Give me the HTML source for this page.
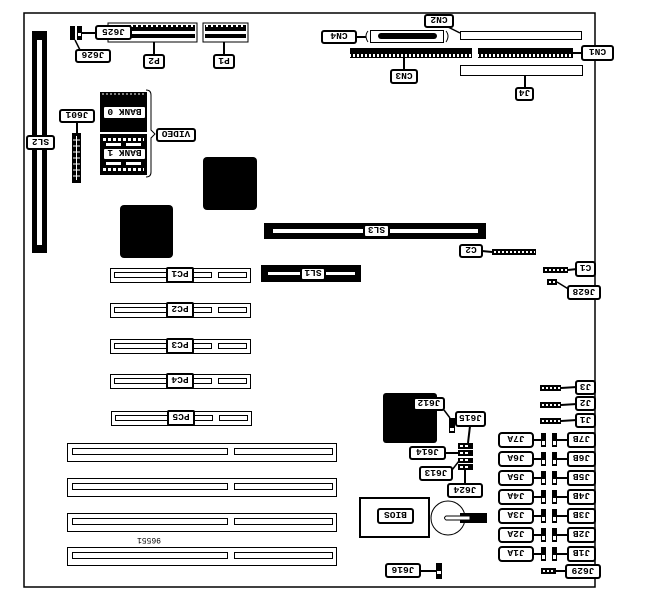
<!DOCTYPE html>
<html><head><meta charset="utf-8"><style>
html,body{margin:0;padding:0;background:#fff;}
svg{display:block;}
text{font-family:"Liberation Mono","DejaVu Sans Mono",monospace;font-weight:bold;font-size:9.5px;fill:#000;}
</style></head><body>
<svg width="659" height="610" viewBox="0 0 659 610" xmlns="http://www.w3.org/2000/svg">
<defs>
<pattern id="pins" width="5" height="10" patternUnits="userSpaceOnUse"><rect width="5" height="10" fill="#000"/><rect x="1" y="2" width="2" height="5" fill="#fff"/></pattern>
<pattern id="hdr" width="4" height="10" patternUnits="userSpaceOnUse"><rect width="4" height="10" fill="#000"/><rect x="1" y="2" width="2" height="5" fill="#fff"/></pattern>
</defs>
<rect x="24" y="13" width="571" height="574" fill="none" stroke="#000" stroke-width="1.5"/>
<rect x="32" y="31" width="15" height="222" fill="#000"/>
<rect x="37" y="40" width="5" height="205" fill="#fff"/>
<rect x="108" y="23" width="89" height="19" fill="#fff" stroke="#000"/>
<rect x="110" y="25" width="85" height="6" fill="url(#pins)"/>
<rect x="110" y="34" width="85" height="4" fill="#000"/>
<rect x="203" y="23" width="45" height="19" fill="#fff" stroke="#000"/>
<rect x="205" y="25" width="41" height="6" fill="url(#pins)"/>
<rect x="205" y="34" width="41" height="4" fill="#000"/>
<rect x="70" y="26" width="5" height="14" fill="#000"/><rect x="77" y="26" width="5" height="14" fill="#000"/>
<rect x="78" y="33" width="3" height="3" fill="#fff"/>
<line x1="82" y1="33" x2="96" y2="33" stroke="#000" stroke-width="2"/>
<line x1="75" y1="40" x2="80" y2="50" stroke="#000" stroke-width="1.5"/>
<line x1="154" y1="42" x2="154" y2="55" stroke="#000" stroke-width="2"/>
<line x1="224" y1="42" x2="224" y2="55" stroke="#000" stroke-width="2"/>
<rect x="100" y="92" width="47" height="40" fill="#000"/>
<line x1="102" y1="94" x2="145" y2="94" stroke="#fff" stroke-dasharray="2,2"/>
<rect x="100" y="134" width="47" height="41" fill="#000"/>
<line x1="103" y1="139.5" x2="144" y2="139.5" stroke="#fff" stroke-width="3" stroke-dasharray="3,2"/>
<line x1="103" y1="169.5" x2="144" y2="169.5" stroke="#fff" stroke-width="3" stroke-dasharray="3,2"/>
<rect x="106" y="143" width="15" height="3" fill="#fff"/><rect x="126" y="143" width="15" height="3" fill="#fff"/>
<rect x="106" y="162" width="15" height="3" fill="#fff"/><rect x="126" y="162" width="15" height="3" fill="#fff"/>
<path d="M146 90 Q151 90 151 95 L151 130 L155 134 L151 138 L151 172 Q151 177 146 177" fill="none" stroke="#000"/>
<rect x="72" y="133" width="9" height="50" fill="#000"/>
<g stroke="#fff" stroke-width="1"><line x1="76.5" y1="136" x2="76.5" y2="180"/>
<line x1="73" y1="140" x2="80" y2="140"/><line x1="73" y1="146" x2="80" y2="146"/><line x1="73" y1="152" x2="80" y2="152"/><line x1="73" y1="158" x2="80" y2="158"/><line x1="73" y1="164" x2="80" y2="164"/><line x1="73" y1="170" x2="80" y2="170"/><line x1="73" y1="176" x2="80" y2="176"/></g>
<line x1="77" y1="122" x2="77" y2="133" stroke="#000" stroke-width="2"/>
<rect x="203" y="157" width="54" height="53" rx="4" fill="#000"/>
<rect x="120" y="205" width="53" height="53" rx="4" fill="#000"/>
<rect x="383" y="393" width="54" height="50" rx="3" fill="#000"/>
<rect x="264" y="223" width="222" height="16" fill="#000"/>
<rect x="273" y="229" width="205" height="4" fill="#fff"/>
<rect x="261" y="265" width="100" height="17" fill="#000"/>
<rect x="268" y="272" width="87" height="3" fill="#fff"/>
<g fill="#fff" stroke="#000">
<rect x="110.5" y="268.5" width="140" height="14"/><rect x="114.5" y="272.5" width="80" height="5"/><rect x="192.5" y="272.5" width="19" height="5"/><rect x="218.5" y="272.5" width="28" height="5"/>
<rect x="110.5" y="303.5" width="140" height="14"/><rect x="114.5" y="307.5" width="80" height="5"/><rect x="192.5" y="307.5" width="19" height="5"/><rect x="218.5" y="307.5" width="28" height="5"/>
<rect x="110.5" y="339.5" width="140" height="14"/><rect x="114.5" y="343.5" width="80" height="5"/><rect x="192.5" y="343.5" width="19" height="5"/><rect x="218.5" y="343.5" width="28" height="5"/>
<rect x="110.5" y="374.5" width="140" height="14"/><rect x="114.5" y="378.5" width="80" height="5"/><rect x="192.5" y="378.5" width="19" height="5"/><rect x="218.5" y="378.5" width="28" height="5"/>
<rect x="111.5" y="411.5" width="140" height="14"/><rect x="115.5" y="415.5" width="80" height="5"/><rect x="193.5" y="415.5" width="19" height="5"/><rect x="219.5" y="415.5" width="28" height="5"/>
<rect x="67.5" y="443.5" width="269" height="18"/><rect x="72.5" y="448.5" width="155" height="6"/><rect x="234.5" y="448.5" width="98" height="6"/>
<rect x="67.5" y="478.5" width="269" height="18"/><rect x="72.5" y="483.5" width="155" height="6"/><rect x="234.5" y="483.5" width="98" height="6"/>
<rect x="67.5" y="513.5" width="269" height="18"/><rect x="72.5" y="518.5" width="155" height="6"/><rect x="234.5" y="518.5" width="98" height="6"/>
<rect x="67.5" y="547.5" width="269" height="18"/><rect x="72.5" y="552.5" width="155" height="6"/><rect x="234.5" y="552.5" width="98" height="6"/>
<rect x="460.5" y="31.5" width="121" height="8"/>
<rect x="460.5" y="65.5" width="122" height="10"/>
<rect x="370.5" y="30.5" width="73" height="12"/>
</g>
<rect x="378" y="33" width="59" height="6" rx="3" fill="#000"/>
<path d="M368 31 Q364 36 368 42 M446 31 Q450 36 446 42" fill="none" stroke="#000"/>
<line x1="356" y1="37" x2="366" y2="37" stroke="#000" stroke-width="2"/>
<line x1="448" y1="27" x2="460" y2="33" stroke="#000" stroke-width="1.5"/>
<rect x="350" y="48" width="122" height="10" fill="url(#hdr)"/>
<rect x="350" y="52" width="122" height="2" fill="#000"/>
<rect x="478" y="48" width="95" height="10" fill="url(#hdr)"/>
<rect x="478" y="52" width="95" height="2" fill="#000"/>
<line x1="573" y1="53" x2="583" y2="53" stroke="#000" stroke-width="2"/>
<line x1="404" y1="58" x2="404" y2="70" stroke="#000" stroke-width="2"/>
<line x1="525" y1="75" x2="525" y2="88" stroke="#000" stroke-width="2"/>
<g fill="#000">
<rect x="492" y="249" width="44" height="6"/>
<rect x="543" y="267" width="25" height="6"/>
<rect x="547" y="279" width="10" height="6"/>
<rect x="540" y="385" width="21" height="6"/>
<rect x="540" y="402" width="21" height="6"/>
<rect x="540" y="418" width="21" height="6"/>
<rect x="541" y="568" width="15" height="6"/>
</g>
<g stroke="#fff" stroke-width="2" stroke-dasharray="2,2">
<line x1="494" y1="252" x2="535" y2="252"/>
<line x1="545" y1="270" x2="567" y2="270"/>
<line x1="549" y1="282" x2="556" y2="282"/>
<line x1="542" y1="388" x2="560" y2="388"/>
<line x1="542" y1="405" x2="560" y2="405"/>
<line x1="542" y1="421" x2="560" y2="421"/>
<line x1="543" y1="571" x2="555" y2="571"/>
</g>
<g stroke="#000" stroke-width="2">
<line x1="482" y1="251" x2="492" y2="252"/>
<line x1="568" y1="270" x2="577" y2="269"/>
<line x1="561" y1="388" x2="577" y2="387"/>
<line x1="561" y1="405" x2="577" y2="404"/>
<line x1="561" y1="421" x2="577" y2="420"/>
<line x1="556" y1="571" x2="567" y2="571"/>
</g>
<line x1="557" y1="282" x2="570" y2="290" stroke="#000" stroke-width="1.5"/>
<g id="jr">
<rect x="541" y="433" width="5" height="14" fill="#000"/><rect x="542" y="441" width="3" height="4" fill="#fff"/>
<rect x="552" y="433" width="5" height="14" fill="#000"/><rect x="553" y="441" width="3" height="4" fill="#fff"/>
<line x1="533" y1="440" x2="541" y2="440" stroke="#000" stroke-width="2"/>
<line x1="557" y1="440" x2="568" y2="440" stroke="#000" stroke-width="2"/>
</g>
<use href="#jr" y="19"/><use href="#jr" y="38"/><use href="#jr" y="57"/><use href="#jr" y="76"/><use href="#jr" y="95"/><use href="#jr" y="114"/>
<rect x="449" y="418" width="6" height="15" fill="#000"/><rect x="450" y="428" width="4" height="3" fill="#fff"/>
<line x1="444" y1="410" x2="450" y2="418" stroke="#000" stroke-width="1.5"/>
<line x1="470" y1="426" x2="468" y2="443" stroke="#000" stroke-width="2"/>
<g fill="#000"><rect x="458" y="443" width="15" height="6"/><rect x="458" y="450" width="15" height="6"/><rect x="458" y="458" width="15" height="5"/><rect x="458" y="464" width="15" height="6"/></g>
<g fill="#fff"><rect x="460" y="445" width="3" height="2"/><rect x="465" y="445" width="3" height="2"/><rect x="460" y="452" width="3" height="2"/><rect x="465" y="452" width="3" height="2"/><rect x="460" y="459" width="3" height="2"/><rect x="465" y="459" width="3" height="2"/><rect x="460" y="466" width="3" height="2"/><rect x="465" y="466" width="3" height="2"/></g>
<line x1="445" y1="453" x2="458" y2="453" stroke="#000" stroke-width="2"/>
<line x1="452" y1="470" x2="459" y2="461" stroke="#000" stroke-width="1.5"/>
<line x1="465" y1="469" x2="465" y2="484" stroke="#000" stroke-width="2"/>
<rect x="360" y="498" width="69" height="39" fill="#fff" stroke="#000" stroke-width="2"/>
<line x1="360" y1="498" x2="429" y2="498" stroke="#000" stroke-width="2" stroke-dasharray="3,1"/>
<circle cx="448" cy="518" r="17" fill="#fff" stroke="#000"/>
<rect x="460" y="513" width="27" height="10" fill="#000"/>
<path d="M446 516 L470 516 L470 520 L446 520 Q443 518 446 516 Z" fill="#fff" stroke="#000"/>
<rect x="436" y="563" width="6" height="16" fill="#000"/><rect x="437" y="571" width="4" height="3" fill="#fff"/>
<line x1="420" y1="571" x2="436" y2="571" stroke="#000" stroke-width="2"/>
<text x="149" y="540" transform="rotate(180 149 539)" text-anchor="middle" style="font-size:8px;font-weight:normal">96551</text>
<g stroke="#000" stroke-width="2" fill="#fff">
<rect x="27" y="136" width="27" height="13" rx="2"/>
<rect x="76" y="50" width="34" height="12" rx="2"/>
<rect x="96" y="26" width="35" height="13" rx="2"/>
<rect x="144" y="55" width="20" height="13" rx="2"/>
<rect x="214" y="55" width="20" height="13" rx="2"/>
<rect x="103" y="106" width="43" height="13" rx="2"/>
<rect x="103" y="148" width="43" height="12" rx="2"/>
<rect x="157" y="129" width="38" height="12" rx="2"/>
<rect x="60" y="110" width="34" height="12" rx="2"/>
<rect x="364" y="225" width="25" height="12" rx="2"/>
<rect x="301" y="268" width="24" height="12" rx="2"/>
<rect x="167" y="268" width="26" height="14" rx="1"/>
<rect x="167" y="303" width="26" height="14" rx="1"/>
<rect x="167" y="339" width="26" height="14" rx="1"/>
<rect x="167" y="374" width="26" height="14" rx="1"/>
<rect x="168" y="411" width="26" height="14" rx="1"/>
<rect x="425" y="15" width="28" height="12" rx="2"/>
<rect x="322" y="31" width="34" height="12" rx="2"/>
<rect x="391" y="70" width="26" height="13" rx="2"/>
<rect x="582" y="46" width="31" height="14" rx="2"/>
<rect x="516" y="88" width="17" height="12" rx="2"/>
<rect x="460" y="245" width="22" height="12" rx="2"/>
<rect x="576" y="262" width="19" height="14" rx="2"/>
<rect x="568" y="286" width="32" height="13" rx="2"/>
<rect x="576" y="381" width="19" height="13" rx="2"/>
<rect x="576" y="397" width="19" height="13" rx="2"/>
<rect x="576" y="414" width="19" height="13" rx="2"/>
<rect x="414" y="398" width="30" height="12" rx="2"/>
<rect x="456" y="412" width="29" height="14" rx="2"/>
<rect x="410" y="447" width="35" height="12" rx="2"/>
<rect x="420" y="467" width="32" height="13" rx="2"/>
<rect x="448" y="484" width="34" height="13" rx="2"/>
<rect x="378" y="509" width="35" height="14" rx="2"/>
<rect x="386" y="564" width="34" height="13" rx="2"/>
<rect x="566" y="565" width="34" height="13" rx="2"/>
<rect x="499" y="433" width="34" height="14" rx="3"/><rect x="568" y="433" width="27" height="14" rx="2"/>
<rect x="499" y="452" width="34" height="14" rx="3"/><rect x="568" y="452" width="27" height="14" rx="2"/>
<rect x="499" y="471" width="34" height="14" rx="3"/><rect x="568" y="471" width="27" height="14" rx="2"/>
<rect x="499" y="490" width="34" height="14" rx="3"/><rect x="568" y="490" width="27" height="14" rx="2"/>
<rect x="499" y="509" width="34" height="14" rx="3"/><rect x="568" y="509" width="27" height="14" rx="2"/>
<rect x="499" y="528" width="34" height="14" rx="3"/><rect x="568" y="528" width="27" height="14" rx="2"/>
<rect x="499" y="547" width="34" height="14" rx="3"/><rect x="568" y="547" width="27" height="14" rx="2"/>
</g>
<g text-anchor="middle">
<text x="40.5" y="146" transform="rotate(180 40.5 142.5)">SL2</text>
<text x="93" y="60" transform="rotate(180 93 56)">J626</text>
<text x="113.5" y="36" transform="rotate(180 113.5 32.5)">J625</text>
<text x="154" y="65" transform="rotate(180 154 61.5)">P2</text>
<text x="224" y="65" transform="rotate(180 224 61.5)">P1</text>
<text x="124.5" y="116" transform="rotate(180 124.5 112.5)">BANK 0</text>
<text x="124.5" y="158" transform="rotate(180 124.5 154)">BANK 1</text>
<text x="176" y="139" transform="rotate(180 176 135)">VIDEO</text>
<text x="77" y="120" transform="rotate(180 77 116)">J601</text>
<text x="376.5" y="235" transform="rotate(180 376.5 231)">SL3</text>
<text x="313" y="278" transform="rotate(180 313 274)">SL1</text>
<text x="180" y="279" transform="rotate(180 180 275)">PC1</text>
<text x="180" y="314" transform="rotate(180 180 310)">PC2</text>
<text x="180" y="350" transform="rotate(180 180 346)">PC3</text>
<text x="180" y="385" transform="rotate(180 180 381)">PC4</text>
<text x="181" y="422" transform="rotate(180 181 418)">PC5</text>
<text x="439" y="25" transform="rotate(180 439 21)">CN2</text>
<text x="339" y="41" transform="rotate(180 339 37)">CN4</text>
<text x="404" y="80" transform="rotate(180 404 76.5)">CN3</text>
<text x="597.5" y="57" transform="rotate(180 597.5 53)">CN1</text>
<text x="524.5" y="98" transform="rotate(180 524.5 94)">J4</text>
<text x="471" y="255" transform="rotate(180 471 251)">C2</text>
<text x="585.5" y="273" transform="rotate(180 585.5 269)">C1</text>
<text x="584" y="296" transform="rotate(180 584 292.5)">J628</text>
<text x="585.5" y="391" transform="rotate(180 585.5 387.5)">J3</text>
<text x="585.5" y="407" transform="rotate(180 585.5 403.5)">J2</text>
<text x="585.5" y="424" transform="rotate(180 585.5 420.5)">J1</text>
<text x="429" y="408" transform="rotate(180 429 404)">J612</text>
<text x="470.5" y="423" transform="rotate(180 470.5 419)">J615</text>
<text x="427.5" y="457" transform="rotate(180 427.5 453)">J614</text>
<text x="436" y="477" transform="rotate(180 436 473.5)">J613</text>
<text x="465" y="494" transform="rotate(180 465 490.5)">J624</text>
<text x="395.5" y="520" transform="rotate(180 395.5 516)">BIOS</text>
<text x="403" y="574" transform="rotate(180 403 570.5)">J616</text>
<text x="583" y="575" transform="rotate(180 583 571.5)">J629</text>
<text x="516" y="444" transform="rotate(180 516 440)">J7A</text><text x="581.5" y="444" transform="rotate(180 581.5 440)">J7B</text>
<text x="516" y="463" transform="rotate(180 516 459)">J6A</text><text x="581.5" y="463" transform="rotate(180 581.5 459)">J6B</text>
<text x="516" y="482" transform="rotate(180 516 478)">J5A</text><text x="581.5" y="482" transform="rotate(180 581.5 478)">J5B</text>
<text x="516" y="501" transform="rotate(180 516 497)">J4A</text><text x="581.5" y="501" transform="rotate(180 581.5 497)">J4B</text>
<text x="516" y="520" transform="rotate(180 516 516)">J3A</text><text x="581.5" y="520" transform="rotate(180 581.5 516)">J3B</text>
<text x="516" y="539" transform="rotate(180 516 535)">J2A</text><text x="581.5" y="539" transform="rotate(180 581.5 535)">J2B</text>
<text x="516" y="558" transform="rotate(180 516 554)">J1A</text><text x="581.5" y="558" transform="rotate(180 581.5 554)">J1B</text>
</g>
</svg>
</body></html>
